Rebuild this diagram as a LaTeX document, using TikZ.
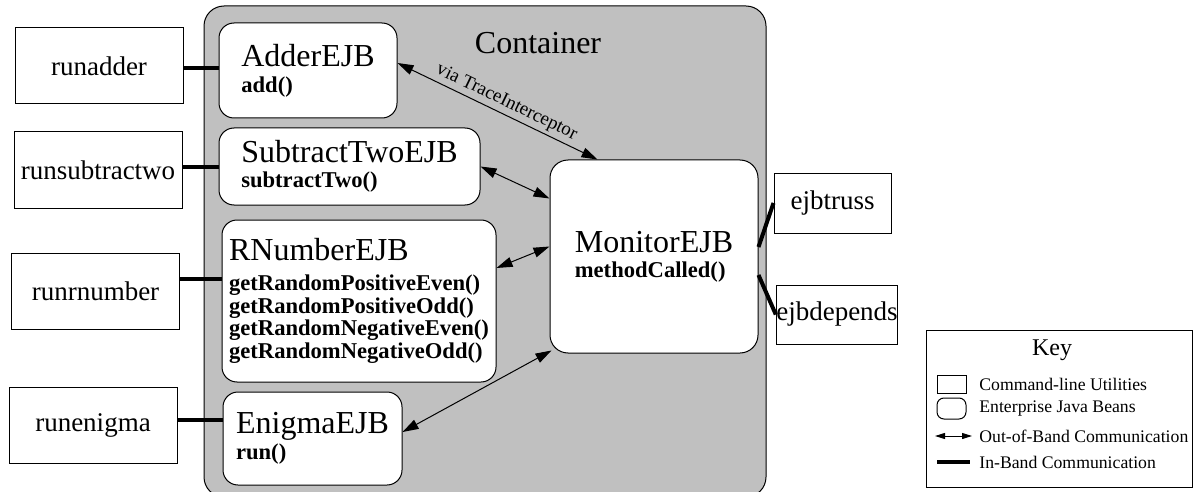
\documentclass[tikz,border=0pt]{standalone}
\usepackage{fontspec}
\setmainfont{Liberation Serif}
\usetikzlibrary{arrows.meta}

\definecolor{containergray}{RGB}{192,192,192}

\newcommand{\ejbname}[1]{{\fontsize{16}{16}\selectfont\mdseries #1}}

\begin{document}
\begin{tikzpicture}[x = 0.5pt, y = -0.5pt,
						utility/.style = {draw, line width = 0.5pt, fill = white, inner sep = 0pt,
							minimum width = 84pt, minimum height = 38pt, font = \fontsize{13.5}{13.5}\selectfont},
						ejb/.style = {draw, line width = 0.5pt, fill = white, rounded corners = 7.5pt,
							align = left, inner sep = 0pt, font = \fontsize{11.3}{11.3}\selectfont\bfseries},
						inband/.style = {line width = 2pt},
						outofband/.style = {line width = 0.5pt,
							{Triangle[length = 8pt, width = 5pt]}-{Triangle[length = 8pt, width = 5pt]}},
						keytext/.style = {anchor = west, inner sep = 0pt, font = \fontsize{8.85}{8.85}\selectfont},
						]
	
		\useasboundingbox (0, 0) rectangle (1194, 492);
		
		% Container
		\node[draw, line width = 0.5pt, fill = containergray, rounded corners = 10pt,
			minimum width = 281pt, minimum height = 245.5pt] (container) at (485, 251.5) {};
		\node[font = \fontsize{16}{16}\selectfont] (containerLabel) at (538, 43) {Container};
		
		% Enterprise Java Beans
		\node[ejb, minimum width = 89pt, minimum height = 47.5pt] (adder) at (308, 70.5)
			{\ejbname{AdderEJB}\\[1.8pt] add()};
		\node[ejb, minimum width = 130.5pt, minimum height = 38.5pt] (subtract) at (349.5, 166.5)
			{\ejbname{SubtractTwoEJB}\\[1.2pt] subtractTwo()};
		\node[ejb, minimum width = 137pt, minimum height = 81pt] (rnumber) at (359, 301)
			{\ejbname{RNumberEJB}\\[3.5pt] getRandomPositiveEven()\\ getRandomPositiveOdd()\\
			 getRandomNegativeEven()\\ getRandomNegativeOdd()};
		\node[ejb, minimum width = 89.5pt, minimum height = 46.5pt] (enigma) at (312.5, 438.5)
			{\ejbname{EnigmaEJB}\\[1.7pt] run()};
		\node[ejb, rounded corners = 9pt, minimum width = 104pt, minimum height = 96.5pt] (monitor) at (654, 256.5)
			{\ejbname{MonitorEJB}\\[1.2pt] methodCalled()};
		
		% Command-line utilities
		\node[utility] (runadder) at (99, 66) {runadder};
		\node[utility] (runsubtractwo) at (98, 170) {runsubtractwo};
		\node[utility] (runrnumber) at (95.5, 291.5) {runrnumber};
		\node[utility] (runenigma) at (93, 425) {runenigma};
		\node[utility, minimum width = 58.5pt, minimum height = 30pt] (ejbtruss) at (832.5, 203) {ejbtruss};
		\node[utility, minimum width = 59pt, minimum height = 29.5pt] (ejbdepends) at (837, 314.5) {ejbdepends};
		
		% In-band communication
		\draw[inband] ([yshift = -1pt]runadder.east) -- ([yshift = -1pt]runadder.east -| adder.west);
		\draw[inband] ([yshift = 1.5pt]runsubtractwo.east) -- ([yshift = 1.5pt]runsubtractwo.east -| subtract.west);
		\draw[inband] ([yshift = 6.25pt]runrnumber.east) -- ([yshift = 6.25pt]runrnumber.east -| rnumber.west);
		\draw[inband] ([yshift = 2.5pt]runenigma.east) -- ([yshift = 2.5pt]runenigma.east -| enigma.west);
		\draw[inband] ([yshift = 4.75pt]monitor.east) -- (ejbtruss.west);
		\draw[inband] ([yshift = -9.25pt]monitor.east) -- (ejbdepends.west);
		
		% Out-of-band communication
		\draw[outofband] ([yshift = 3.75pt]adder.east) -- node[sloped, above, pos = 0.52, inner sep = 1.5pt,
			font = \fontsize{9.5}{9.5}\selectfont] (viaLabel) {via TraceInterceptor} ([xshift = 24pt]monitor.north west);
		\draw[outofband] (subtract.east) -- ([yshift = -19.5pt]monitor.north west);
		\draw[outofband] ([yshift = 16.5pt]rnumber.east) -- ([yshift = 5pt]monitor.west);
		\draw[outofband] ([yshift = 3.25pt]enigma.east) -- ([xshift = 1pt, yshift = 1.5pt]monitor.south west);
		
		% Key
		\node[draw, line width = 0.5pt, minimum width = 133pt, minimum height = 78.5pt] (key) at (1059, 408.5) {};
		\node[font = \fontsize{12}{12}\selectfont] (keyTitle) at (1052, 350) {Key};
		\node[draw, line width = 0.5pt, minimum width = 14.5pt, minimum height = 9pt, inner sep = 0pt] (keyUtility) at (951.5, 384) {};
		\node[draw, line width = 0.5pt, rounded corners = 3.5pt, minimum width = 14.5pt, minimum height = 10.5pt,
			inner sep = 0pt] (keyEjb) at (951.5, 408.5) {};
		\coordinate (keyArrowStart) at (935, 436);
		\coordinate (keyArrowEnd) at (972, 436);
		\coordinate (keyLineStart) at (937, 462);
		\coordinate (keyLineEnd) at (970, 462);
		\draw[line width = 0.5pt, {Triangle[length = 5pt, width = 3pt]}-{Triangle[length = 5pt, width = 3pt]}]
			(keyArrowStart) -- (keyArrowEnd);
		\draw[inband] (keyLineStart) -- (keyLineEnd);
		\node[keytext] (keyUtilityText) at (979, 384) {Command-line Utilities};
		\node[keytext] (keyEjbText) at (979, 408.5) {Enterprise Java Beans};
		\node[keytext] (keyArrowText) at (979, 436) {Out-of-Band Communication};
		\node[keytext] (keyLineText) at (979, 462) {In-Band Communication};
		
	\end{tikzpicture}
\end{document}
